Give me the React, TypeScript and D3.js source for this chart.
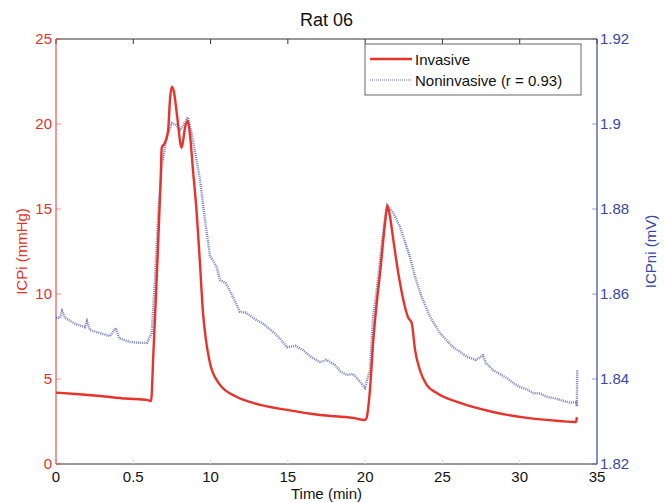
import React from "react";
import * as d3 from "d3";

const xTicks = [0, 5, 10, 15, 20, 25, 30, 35];
const xTickLabels = ["0", "0.5", "10", "15", "20", "25", "30", "35"];
const leftTicks = [0, 5, 10, 15, 20, 25];
const rightTicks = [1.82, 1.84, 1.86, 1.88, 1.9, 1.92];
const rightTickLabels = ["1.82", "1.84", "1.86", "1.88", "1.9", "1.92"];

// invasive ICP (mmHg): [time, value]
const invasive: [number, number][] = [
  [0, 4.2], [1.5, 4.1], [2.85, 4.0], [4.5, 3.85], [5.95, 3.76], [6.15, 3.7],
  [6.3, 6.5], [6.51, 10.8], [6.77, 16.7], [6.84, 18.6], [7.05, 18.9], [7.25, 19.6],
  [7.38, 21.5], [7.49, 22.2], [7.63, 21.9], [7.83, 20.5], [8.13, 18.6], [8.35, 19.8],
  [8.52, 20.2], [8.67, 19.35], [8.86, 17.3], [9.1, 14.8], [9.32, 11.7], [9.51, 8.9],
  [9.7, 7.3], [9.96, 5.94], [10.48, 4.82], [11.71, 3.94], [12.75, 3.59], [14.94, 3.18],
  [17.08, 2.88], [19.21, 2.71], [19.99, 2.59], [20.09, 2.7], [20.31, 4.35], [20.53, 7.3],
  [20.77, 9.65], [20.96, 11.2], [21.29, 14.2], [21.43, 15.2], [21.6, 14.6], [21.82, 13.2],
  [22.15, 11.2], [22.47, 9.65], [22.79, 8.6], [23.01, 8.3], [23.23, 6.7], [23.55, 5.5],
  [23.98, 4.65], [24.63, 4.18], [26.14, 3.59], [28.27, 3.06], [30.47, 2.71], [32.6, 2.53],
  [33.64, 2.47], [33.7, 2.75],
];

// noninvasive ICP (mV): [time, value]
const noninvasive: [number, number][] = [
  [0, 1.8544], [0.26, 1.8544], [0.39, 1.856], [0.58, 1.8544], [1.23, 1.853], [1.88, 1.8522],
  [2.0, 1.8536], [2.2, 1.8515], [2.85, 1.8508], [3.49, 1.8501], [3.88, 1.852], [4.08, 1.8496],
  [4.79, 1.8487], [5.43, 1.8485], [5.89, 1.8485], [6.19, 1.8508], [6.4, 1.8633], [6.62, 1.8791],
  [6.84, 1.8899], [7.16, 1.8969], [7.49, 1.9002], [7.76, 1.8998], [8.02, 1.8986], [8.28, 1.9],
  [8.54, 1.9016], [8.86, 1.8962], [9.32, 1.8868], [9.64, 1.8774], [9.96, 1.869], [10.4, 1.8664],
  [10.61, 1.8633], [11.0, 1.8625], [11.45, 1.8593], [11.9, 1.8558], [12.3, 1.8556], [12.74, 1.8544],
  [13.4, 1.853], [14.04, 1.8511], [14.5, 1.8495], [14.94, 1.8475], [15.5, 1.8478], [15.98, 1.8468],
  [16.5, 1.8452], [17.08, 1.844], [17.5, 1.8445], [18.05, 1.8433], [18.4, 1.8418], [18.83, 1.8409],
  [19.2, 1.8412], [19.47, 1.8402], [19.99, 1.8379], [20.18, 1.8405], [20.31, 1.8421], [20.51, 1.8546],
  [20.75, 1.8609], [20.83, 1.8633], [21.18, 1.8751], [21.43, 1.8809], [21.82, 1.8791], [22.26, 1.8758],
  [22.9, 1.8687], [23.23, 1.864], [23.66, 1.8593], [24.2, 1.8546], [24.84, 1.8508], [25.68, 1.8475],
  [26.1, 1.8465], [26.59, 1.8452], [27.17, 1.8445], [27.62, 1.8456], [27.82, 1.8438], [28.27, 1.8421],
  [28.7, 1.8412], [29.18, 1.8402], [29.6, 1.839], [30.02, 1.8381], [30.5, 1.8375], [30.86, 1.8367],
  [31.3, 1.8366], [31.77, 1.8358], [32.2, 1.8355], [32.6, 1.8351], [33.25, 1.8344], [33.64, 1.8346],
  [33.7, 1.8336], [33.72, 1.8421],
];

const RED = "#e8322a";
const BLUE = "#3a46a4";
const FONT = "'Liberation Sans', Arial, Helvetica, sans-serif";

const W = 667;
const H = 503;
const m = { left: 56, right: 597, top: 39, bottom: 464 };

export default function App() {
  const x = d3.scaleLinear().domain([0, 35]).range([m.left, m.right]);
  const yL = d3.scaleLinear().domain([0, 25]).range([m.bottom, m.top]);
  const yR = d3.scaleLinear().domain([1.82, 1.92]).range([m.bottom, m.top]);

  const lineL = d3
    .line<[number, number]>()
    .x((d) => x(d[0]))
    .y((d) => yL(d[1]))
    .curve(d3.curveMonotoneX);
  const lineR = d3.line<[number, number]>().x((d) => x(d[0])).y((d) => yR(d[1]));

  return (
    <svg width={W} height={H} style={{ position: "absolute", left: 0, top: 0, background: "#fff" }} fontFamily={FONT}>
      {/* title */}
      <text x={(m.left + m.right) / 2} y={26} textAnchor="middle" fontSize={18} fill="#111">Rat 06</text>

      {/* top & bottom axis lines */}
      <line x1={m.left} x2={m.right} y1={m.top} y2={m.top} stroke="#333" strokeWidth={1} />
      <line x1={m.left} x2={m.right} y1={m.bottom} y2={m.bottom} stroke="#333" strokeWidth={1} />

      {/* x ticks */}
      {xTicks.map((t, i) => (
        <g key={t}>
          <line x1={x(t)} x2={x(t)} y1={m.top} y2={m.top + 5} stroke="#333" />
          <line x1={x(t)} x2={x(t)} y1={m.bottom} y2={m.bottom - 5} stroke="#ddd" />
          <text x={x(t)} y={m.bottom + 18} textAnchor="middle" fontSize={15} fill="#111">{xTickLabels[i]}</text>
        </g>
      ))}
      <text x={(m.left + m.right) / 2} y={499} textAnchor="middle" fontSize={15} fill="#111">Time (min)</text>

      {/* left axis */}
      <line x1={m.left} x2={m.left} y1={m.top} y2={m.bottom} stroke={RED} strokeWidth={1} />
      {leftTicks.map((v) => (
        <g key={v}>
          <line x1={m.left} x2={m.left + 5} y1={yL(v)} y2={yL(v)} stroke={RED} strokeOpacity={0.5} />
          <text x={m.left - 4} y={yL(v) + 5} textAnchor="end" fontSize={15} fill={RED}>{v}</text>
        </g>
      ))}
      <text transform={`translate(27,${(m.top + m.bottom) / 2}) rotate(-90)`} textAnchor="middle" fontSize={15} fill={RED}>ICPi (mmHg)</text>

      {/* right axis */}
      <line x1={m.right} x2={m.right} y1={m.top} y2={m.bottom} stroke={BLUE} strokeWidth={1.2} />
      {rightTicks.map((v, i) => (
        <g key={v}>
          <line x1={m.right} x2={m.right - 5} y1={yR(v)} y2={yR(v)} stroke={BLUE} strokeOpacity={0.5} />
          <text x={m.right + 3} y={yR(v) + 5} textAnchor="start" fontSize={15} fill={BLUE}>{rightTickLabels[i]}</text>
        </g>
      ))}
      <text transform={`translate(656,${(m.top + m.bottom) / 2}) rotate(-90)`} textAnchor="middle" fontSize={15} fill={BLUE}>ICPni (mV)</text>

      {/* series */}
      <path d={lineR(noninvasive) || ""} fill="none" stroke={BLUE} strokeWidth={2.4} strokeDasharray="1.1 1" strokeOpacity={0.65} />
      <path d={lineL(invasive) || ""} fill="none" stroke={RED} strokeWidth={2.4} strokeLinejoin="round" />

      {/* legend */}
      <rect x={365} y={44} width={216} height={51} fill="#fff" stroke="#666" strokeWidth={1} />
      <line x1={370} x2={412} y1={59} y2={59} stroke={RED} strokeWidth={2.3} />
      <text x={415} y={65} fontSize={15} fill="#111">Invasive</text>
      <line x1={370} x2={412} y1={80} y2={80} stroke={BLUE} strokeWidth={1.5} strokeDasharray="1 1" strokeOpacity={0.5} />
      <text x={415} y={86} fontSize={15} fill="#111">Noninvasive (r = 0.93)</text>
    </svg>
  );
}
